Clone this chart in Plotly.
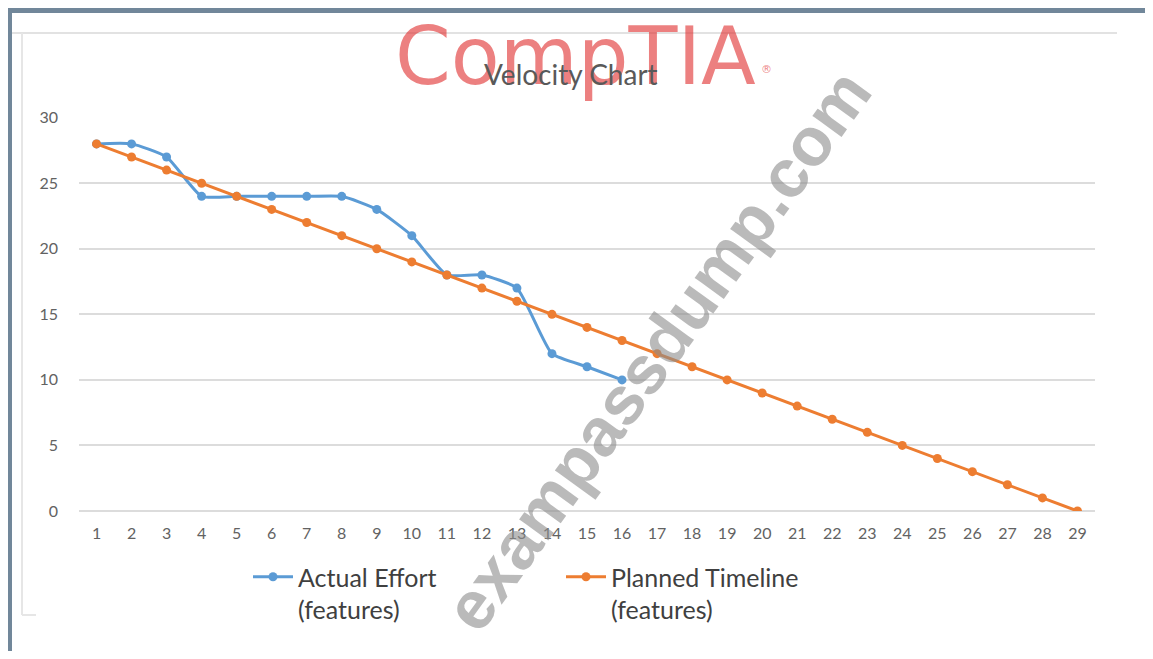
import plotly.graph_objects as go

# ---- data ----
days = [1, 2, 3, 4, 5, 6, 7, 8, 9, 10, 11, 12, 13, 14, 15, 16, 17, 18, 19, 20,
        21, 22, 23, 24, 25, 26, 27, 28, 29]
actual_days = [1, 2, 3, 4, 5, 6, 7, 8, 9, 10, 11, 12, 13, 14, 15, 16]
actual_effort = [28, 28, 27, 24, 24, 24, 24, 24, 23, 21, 18, 18, 17, 12, 11, 10]
planned_timeline = [28, 27, 26, 25, 24, 23, 22, 21, 20, 19, 18, 17, 16, 15, 14,
                    13, 12, 11, 10, 9, 8, 7, 6, 5, 4, 3, 2, 1, 0]
y_ticks = [0, 5, 10, 15, 20, 25, 30]

# page body has an 8px margin; figure is sized to avoid scrollbars
OFF = 8
W, H = 1153 - 2 * OFF, 659 - 2 * OFF
L, T = 79 - OFF, 117 - OFF
R = W - (1095 - OFF)
B = H - (511 - OFF)
PW = W - L - R
PH = H - T - B


def px(x):  # screen pixel -> paper
    return (x - OFF - L) / PW


def py(y):  # screen pixel -> paper
    return (H - B - (y - OFF)) / PH


fig = go.Figure()
fig.add_trace(go.Scatter(
    x=actual_days, y=actual_effort, mode="lines+markers",
    name="Actual Effort<br>(features)",
    line=dict(color="#5b9bd5", width=3, shape="spline", smoothing=0.5),
    marker=dict(color="#5b9bd5", size=9, symbol="circle"),
))
fig.add_trace(go.Scatter(
    x=days, y=planned_timeline, mode="lines+markers",
    name="Planned Timeline<br>(features)",
    line=dict(color="#ed7d31", width=3),
    marker=dict(color="#ed7d31", size=9, symbol="circle"),
))

shapes = [
    # outer gray frame
    dict(type="rect", xref="paper", yref="paper", x0=px(5), x1=px(1160), y0=py(13), y1=py(7),
         fillcolor="#71879a", line=dict(width=0), layer="above"),
    dict(type="rect", xref="paper", yref="paper", x0=px(5), x1=px(12), y0=py(670), y1=py(7),
         fillcolor="#71879a", line=dict(width=0), layer="above"),
    # faint chart-area border
    dict(type="line", xref="paper", yref="paper", x0=px(12), x1=px(1117), y0=py(33), y1=py(33),
         line=dict(color="#e2e2e2", width=2)),
    dict(type="line", xref="paper", yref="paper", x0=px(22), x1=px(22), y0=py(33), y1=py(615),
         line=dict(color="#e6e6e6", width=2)),
    dict(type="line", xref="paper", yref="paper", x0=px(22), x1=px(36), y0=py(615), y1=py(615),
         line=dict(color="#e6e6e6", width=2)),
]

annotations = [
    dict(text="CompTIA", xref="paper", yref="paper", x=px(575), y=py(8),
         showarrow=False, font=dict(family="DejaVu Sans", size=80, color="rgba(225,50,50,0.62)"),
         xanchor="center", yanchor="top"),
    dict(text="®", xref="paper", yref="paper", x=px(766), y=py(70),
         showarrow=False, font=dict(family="DejaVu Sans", size=11, color="rgba(225,50,50,0.62)"),
         xanchor="center", yanchor="middle"),
    dict(text="Velocity Chart", xref="paper", yref="paper", x=px(571), y=py(74),
         showarrow=False, font=dict(family="Lato", size=28, color="#595959"),
         xanchor="center", yanchor="middle"),
    dict(text="exampassdump.com", xref="paper", yref="paper", x=px(657), y=py(350),
         showarrow=False, textangle=-54,
         font=dict(family="Liberation Sans", size=68, weight="bold",
                   color="rgba(140,140,140,0.6)"),
         xanchor="center", yanchor="middle"),
]

fig.update_layout(
    width=W, height=H,
    margin=dict(l=L, r=R, t=T, b=B, pad=0),
    paper_bgcolor="white", plot_bgcolor="white",
    showlegend=True,
    legend=dict(orientation="h", x=px(248), y=py(554), xanchor="left", yanchor="top",
                font=dict(family="Lato", size=25, color="#404040"),
                valign="top", entrywidth=258, entrywidthmode="pixels",
                itemwidth=40, bgcolor="rgba(0,0,0,0)", traceorder="normal"),
    xaxis=dict(range=[0.5, 29.5], tickmode="array", tickvals=days,
               ticktext=[str(d) for d in days], showgrid=False, zeroline=False,
               showline=False, ticks="", ticklabelstandoff=11,
               tickfont=dict(family="Lato", size=16, color="#626262")),
    yaxis=dict(range=[0, 30.05], tickmode="array", tickvals=y_ticks,
               showgrid=True, gridcolor="#dcdcdc", gridwidth=2,
               zeroline=True, zerolinecolor="#dcdcdc", zerolinewidth=2,
               showline=False, ticks="", ticklabelstandoff=20,
               tickfont=dict(family="Lato", size=16, color="#626262")),
    shapes=shapes,
    annotations=annotations,
)

fig.write_html("out.html")
